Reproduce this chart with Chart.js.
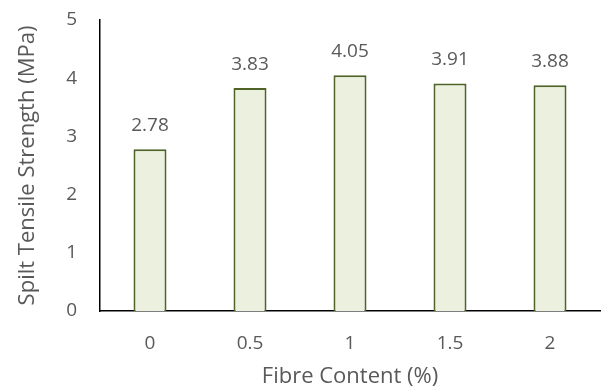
<!DOCTYPE html>
<html>
<head>
<meta charset="utf-8">
<script src="https://cdn.jsdelivr.net/npm/chart.js@4"></script>
<style>
  html, body { margin: 0; padding: 0; background: #fff; }
  #wrap { width: 605px; height: 389px; position: relative; }
</style>
</head>
<body>
<div id="wrap"><canvas id="graficoTracao"></canvas></div>
<script>
// Teores de fibra e resistência à tração por compressão diametral
const teores = ["0", "0.5", "1", "1.5", "2"];
const resistencia = [2.78, 3.83, 4.05, 3.91, 3.88];
const ticksY = [0, 1, 2, 3, 4, 5];

const corTexto = "#595959";
const fonte = "'Open Sans', 'Liberation Sans', sans-serif";

// escreve o valor acima de cada barra
const rotulosBarras = {
    id: "rotulosBarras",
    afterDatasetsDraw(chart) {
        const ctx = chart.ctx;
        const meta = chart.getDatasetMeta(0);
        ctx.save();
        ctx.fillStyle = corTexto;
        ctx.font = "19px " + fonte;
        ctx.textAlign = "center";
        ctx.textBaseline = "middle";
        meta.data.forEach(function (barra, i) {
            ctx.fillText(resistencia[i].toFixed(2), barra.x, barra.y - 24);
        });
        ctx.restore();
    }
};

const canvas = document.getElementById("graficoTracao");

new Chart(canvas, {
    type: "bar",
    data: {
        labels: teores,
        datasets: [{
            data: resistencia,
            backgroundColor: "#ebf1de",
            borderColor: "#4f6228",
            borderWidth: 2,
            barPercentage: 0.33,
            categoryPercentage: 1
        }]
    },
    options: {
        responsive: true,
        maintainAspectRatio: false,
        animation: false,
        layout: { padding: { top: 20, right: 5, left: 0, bottom: 0 } },
        plugins: {
            legend: { display: false },
            tooltip: { enabled: false }
        },
        scales: {
            x: {
                grid: { display: false },
                border: { display: true, color: "#000", width: 1.5 },
                ticks: { color: corTexto, font: { size: 19, family: fonte }, padding: 13 },
                title: {
                    display: true,
                    text: "Fibre Content (%)",
                    color: corTexto,
                    font: { size: 22, family: fonte },
                    padding: { top: 0, bottom: -1 }
                },
                afterFit(scale) { scale.height = 78; }
            },
            y: {
                min: 0,
                max: 5,
                afterBuildTicks(scale) {
                    scale.ticks = ticksY.map(v => ({ value: v }));
                },
                grid: { display: false },
                border: { display: true, color: "#000", width: 1.5 },
                ticks: { color: corTexto, font: { size: 19, family: fonte }, padding: 15 },
                title: {
                    display: true,
                    text: "Spilt Tensile Strength (MPa)",
                    color: corTexto,
                    font: { size: 22, family: fonte },
                    padding: { top: 15, bottom: 0 }
                },
                afterFit(scale) {
                    scale.width = 100;
                    // o topo da área do gráfico fica só com o padding do layout
                    scale.paddingTop = 0;
                    scale.paddingBottom = 0;
                }
            }
        }
    },
    plugins: [rotulosBarras]
});
</script>
</body>
</html>
